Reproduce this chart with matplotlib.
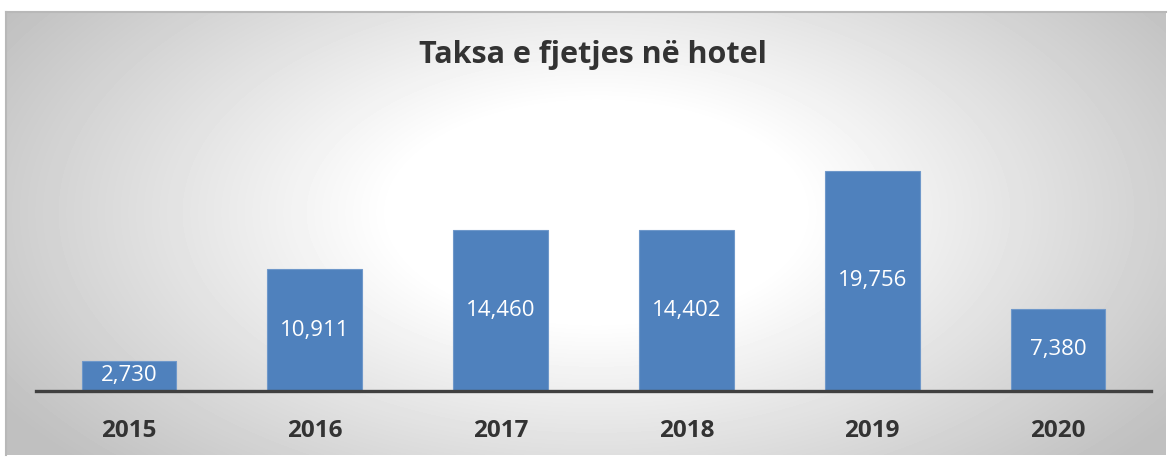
import numpy as np
import matplotlib
matplotlib.use("Agg")
import matplotlib.pyplot as plt

plt.rcParams['font.family'] = ['Open Sans', 'DejaVu Sans']

years = ['2015', '2016', '2017', '2018', '2019', '2020']
values = [2730, 10911, 14460, 14402, 19756, 7380]
title = 'Taksa e fjetjes në hotel'

fig = plt.figure(figsize=(11.69, 4.57), dpi=100)

# radial gradient background panel
bg = fig.add_axes([6 / 1169, 2 / 457, 1160 / 1169, 443 / 457])
h, w = 443, 1160
yy, xx = np.mgrid[0:h, 0:w]
cx, cy = 590, 200
r = np.sqrt(((xx - cx) / 620.0) ** 2 + ((yy - cy) / 330.0) ** 2)
shade = 1.0 - 0.25 * np.clip((r - 0.33) / 0.8, 0, 1)
bg.imshow(shade, cmap='gray', vmin=0, vmax=1, aspect='auto', interpolation='bilinear')
bg.set_xticks([])
bg.set_yticks([])
for side in ['right', 'bottom']:
    bg.spines[side].set_visible(False)
for side in ['top', 'left']:
    bg.spines[side].set_color('#b8b8b8')
    bg.spines[side].set_linewidth(1.5)

ax = fig.add_axes([36 / 1169, 66 / 457, 1115 / 1169, 291 / 457])
ax.patch.set_alpha(0)
x = np.arange(len(years))
bars = ax.bar(x, values, width=0.51, color='#4F81BD', edgecolor='#6F98CA', linewidth=0.8, zorder=2)
ax.set_xlim(-0.5, len(years) - 0.5)
ax.set_ylim(0, 26100)

for b, v in zip(bars, values):
    ax.text(b.get_x() + b.get_width() / 2, v / 2, f'{v:,}', ha='center', va='center',
            color='white', fontsize=16, zorder=3)

ax.set_xticks(x)
ax.set_xticklabels(years, fontsize=17.5, fontweight='bold', color='#333333')
ax.tick_params(axis='x', length=0, pad=20.5)
ax.set_yticks([])
for side in ['top', 'right', 'left']:
    ax.spines[side].set_visible(False)
ax.spines['bottom'].set_color('#404040')
ax.spines['bottom'].set_linewidth(2.4)
ax.spines['bottom'].set_zorder(4)

fig.text(593 / 1169, 1 - 55 / 457, title, ha='center', va='center',
         fontsize=22, fontweight='bold', color='#333333')

fig.savefig('out.png', dpi=100)
